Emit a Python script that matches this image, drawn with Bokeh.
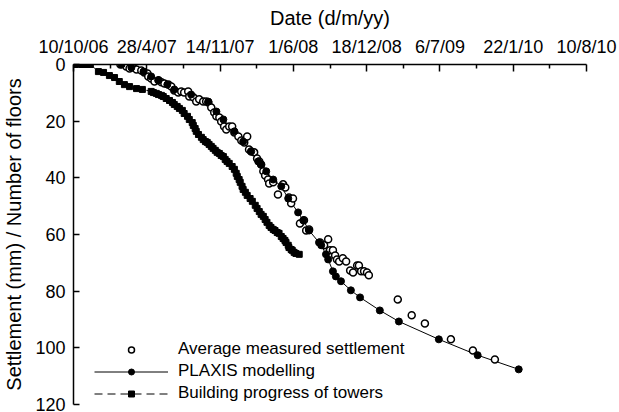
from bokeh.plotting import figure
from bokeh.models import Range1d, FixedTicker, Legend, LegendItem
from bokeh.embed import file_html
from bokeh.resources import INLINE

# ---- axis ticks (days since 10/10/06) ----
tick_days = [0, 200, 400, 600, 800, 1000, 1200, 1400]
tick_labels = ["10/10/06", "28/4/07", "14/11/07", "1/6/08", "18/12/08", "6/7/09", "22/1/10", "10/8/10"]
minor_days = [100, 300, 500, 700, 900, 1100, 1300]
y_ticks = [0, 20, 40, 60, 80, 100, 120]

# ---- Building progress of towers (number of floors) ----
bp_days = [5, 22, 35, 46, 68, 82, 98, 112, 125, 139, 153, 172, 188,
           212, 218, 226, 232, 240, 245, 253, 262, 270, 275,
           283, 289, 297, 302, 311, 316, 324, 327, 332, 335,
           341, 349, 354, 360, 365, 370, 376, 381, 387, 392,
           398, 403, 409, 414, 419, 425, 433, 439, 444, 447,
           452, 455, 460, 463, 469, 474, 482, 488, 496, 501,
           507, 512, 518, 523, 528, 534, 539, 545, 550, 556,
           561, 567, 572, 577, 580, 586, 588, 594, 597, 602,
           607, 616]
bp_floors = [0, 0, 0, 0, 2.5, 2.8, 3.9, 4.6, 6.0, 7.1, 7.8, 8.5, 8.8,
             9.5, 9.9, 10.2, 10.6, 10.9, 11.3, 12.0, 12.7, 13.4, 14.1,
             14.8, 15.5, 16.2, 17.3, 18.3, 19.4, 20.5, 21.5, 22.6, 23.6,
             24.7, 25.7, 26.5, 27.2, 27.5, 28.2, 28.9, 29.6, 30.3, 31.0,
             31.4, 32.1, 32.5, 33.5, 34.2, 34.9, 36.0, 37.0, 38.4, 39.5,
             40.6, 41.6, 43.0, 44.1, 45.1, 46.2, 47.3, 48.3, 49.7, 50.8,
             51.9, 52.9, 53.6, 54.7, 55.7, 56.8, 57.5, 58.2, 58.6, 59.3,
             59.6, 60.7, 61.4, 62.1, 62.8, 63.8, 64.6, 65.3, 65.6, 66.3,
             66.7, 67.0]

# ---- Average measured settlement (mm) ----
m_days = [128, 136, 144, 153, 163, 172, 185, 193, 202, 204,
          212, 221, 232, 240, 248, 259, 267, 275, 286, 294,
          302, 313, 316, 327, 335, 343, 354, 362, 368, 376,
          384, 390, 398, 403, 411, 417, 425, 433, 439, 450,
          458, 466, 474, 479, 485, 493, 501, 507, 512, 518,
          523, 531, 534, 545, 558, 572, 578, 588, 594, 599,
          618, 629, 635, 643, 673, 684, 695, 700, 708, 714,
          719, 725, 735, 744, 755, 763, 774, 779, 785, 793,
          801, 806, 885, 923, 959, 1030, 1090, 1150]
m_vals = [0, -0.5, 0.7, 1.4, 1.1, 1.8, 2.1, 2.8, 3.2, 4.2,
          4.9, 6.0, 5.6, 6.3, 6.7, 7.1, 7.8, 9.2, 9.9, 9.5,
          9.9, 9.5, 11.3, 11.6, 13.1, 12.3, 13.1, 13.1, 13.4, 15.2,
          16.9, 18.3, 18.7, 20.1, 21.9, 22.9, 21.9, 21.9, 24.0, 25.4,
          26.8, 27.5, 25.4, 30.0, 30.7, 31.0, 33.2, 34.2, 35.3, 37.7,
          39.2, 40.6, 42.0, 41.6, 45.9, 42.3, 43.4, 46.9, 49.0, 47.3,
          56.1, 55.0, 58.6, 58.2, 62.8, 63.8, 61.7, 65.6, 65.6, 67.4,
          68.8, 69.5, 68.4, 69.5, 72.7, 73.4, 70.9, 70.9, 73.0, 73.0,
          73.4, 74.4, 82.9, 88.5, 91.4, 97.0, 100.9, 104.1]

# ---- PLAXIS modelling (mm) ----
plx_days = [131, 158, 191, 212, 232, 256, 275, 321, 368, 390, 409, 439, 463,
            485, 504, 512, 526, 545, 567, 586, 613, 627, 643, 670, 676, 689,
            695, 708, 716, 730, 757, 782, 836, 888, 997, 1103, 1215]
plx_vals = [0, 1.1, 2.5, 4.2, 5.6, 7.1, 8.8, 10.6, 13.1, 16.6, 19.4, 23.6, 27.2,
            30.7, 34.2, 35.3, 37.7, 40.6, 43.0, 47.3, 52.2, 55.0, 58.6, 62.8, 63.8, 67.0,
            68.8, 73.0, 74.8, 76.5, 79.7, 82.2, 86.8, 90.7, 97.0, 102.6, 107.6]

FONT = "Liberation Sans"
TICK_FS = "18px"
TITLE_FS = "20px"
LEG_FS = "17px"

p = figure(width=619, height=412,
           x_range=Range1d(0, 1400), y_range=Range1d(120, 0),
           x_axis_location="above",
           output_backend="svg", toolbar_location=None,
           min_border_left=72, min_border_top=64, min_border_right=33, min_border_bottom=8,
           background_fill_color="white", border_fill_color="white")
p.outline_line_color = None
p.grid.visible = False

xa = p.xaxis[0]
xa.ticker = FixedTicker(ticks=tick_days, minor_ticks=minor_days)
xa.major_label_overrides = {d: lab for d, lab in zip(tick_days, tick_labels)}
xa.axis_label = "Date (d/m/yy)"
xa.major_tick_in = 7
xa.major_tick_out = 0
xa.minor_tick_in = 4
xa.minor_tick_out = 0
xa.major_label_standoff = 8
xa.axis_label_standoff = 5

ya = p.yaxis[0]
ya.ticker = FixedTicker(ticks=y_ticks)
ya.axis_label = "Settlement (mm) / Number of floors"
ya.major_tick_in = 6
ya.major_tick_out = 0
ya.minor_tick_line_color = None
ya.major_label_standoff = 8
ya.axis_label_standoff = 7

for ax in (xa, ya):
    ax.axis_line_width = 1.5
    ax.axis_line_color = "black"
    ax.major_tick_line_width = 1.5
    ax.minor_tick_line_width = 1.5
    ax.major_tick_line_color = "black"
    ax.major_label_text_font = FONT
    ax.major_label_text_font_size = TICK_FS
    ax.major_label_text_color = "black"
    ax.axis_label_text_font = FONT
    ax.axis_label_text_font_size = TITLE_FS
    ax.axis_label_text_font_style = "normal"
    ax.axis_label_text_color = "black"

bp_line = p.line(bp_days, bp_floors, line_color="black", line_width=1, line_dash="8 5")
bp_sq = p.scatter(bp_days, bp_floors, marker="square", size=6,
                  fill_color="black", line_color="black")
plx_line = p.line(plx_days, plx_vals, line_color="black", line_width=1)
meas = p.scatter(m_days, m_vals, marker="circle", size=7,
                 fill_color="white", line_color="black", line_width=1.5)
plx_pts = p.scatter(plx_days, plx_vals, marker="circle", size=7,
                    fill_color="black", line_color="black")

legend = Legend(items=[
    LegendItem(label="Average measured settlement", renderers=[meas]),
    LegendItem(label="PLAXIS modelling", renderers=[plx_line, plx_pts]),
    LegendItem(label="Building progress of towers", renderers=[bp_line, bp_sq]),
], location=(21, 1))
legend.glyph_width = 74
legend.glyph_height = 15
legend.label_height = 15
legend.spacing = 2
legend.padding = 0
legend.margin = 0
legend.label_standoff = 10
legend.border_line_color = None
legend.background_fill_alpha = 0
legend.label_text_font = FONT
legend.label_text_font_size = LEG_FS
legend.label_text_color = "black"
p.add_layout(legend, "center")

open("out.html", "w").write(file_html(p, INLINE))
